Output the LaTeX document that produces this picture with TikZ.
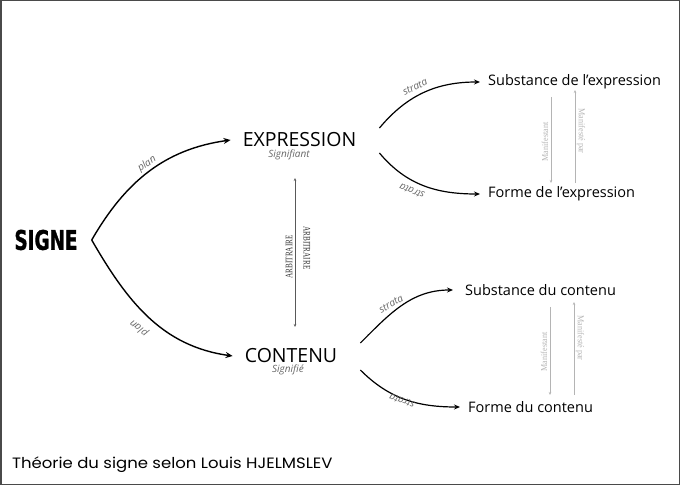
\documentclass[tikz,border=0pt]{standalone}
\usepackage{fontspec}
\setmainfont{Open Sans}
\newfontfamily\titlefont[FakeStretch=1.1]{Poppins}
\newfontfamily\signefont[FakeStretch=0.68, FakeBold=1.2]{DejaVu Sans}
\newfontfamily\notefont[FakeStretch=0.72]{Liberation Serif}
\newfontfamily\manfont[FakeStretch=0.9]{Liberation Serif}
\usetikzlibrary{arrows.meta}
\definecolor{labgray}{HTML}{666666}
\definecolor{mangray}{HTML}{B4B4B4}
\definecolor{framegray}{HTML}{4A4A4A}

\begin{document}
\begin{tikzpicture}[x=1pt, y=1pt,
  plane/.style={line width=1.4pt, -{Stealth[length=7pt, width=6pt]}},
  stratum/.style={line width=1.2pt, -{Stealth[length=6pt, width=5pt]}},
  level/.style={font=\fontsize{19.5}{22}\selectfont, inner xsep=12pt, inner ysep=2pt},
  leaf/.style={font=\fontsize{14.5}{17}\selectfont, anchor=west, inner xsep=8pt, inner ysep=1pt},
  tag/.style={font=\fontsize{10}{12}\selectfont\itshape, text=labgray, inner sep=0pt},
  arbtag/.style={font=\notefont\fontsize{10}{12}\selectfont, text=black!80, inner sep=0pt},
  mantag/.style={font=\manfont\fontsize{9}{11}\selectfont, text=mangray, inner sep=0pt},
  arblink/.style={black!65, line width=0.6pt, {Stealth[length=3pt, width=2.5pt]}-{Stealth[length=3pt, width=2.5pt]}},
  manlink/.style={mangray, line width=0.6pt, -{Stealth[length=3pt, width=2.5pt]}}]
  \useasboundingbox (0,0) rectangle (681,-486);
  % draw frame
  \draw[framegray, line width=1.5pt] (0.75,-0.75) rectangle (679.5,-484.5);
  % draw main nodes
  \node[font=\signefont\bfseries\fontsize{27}{30}\selectfont, inner xsep=14pt] (signe) at (46,-240) {SIGNE};
  \node[level] (expr) at (299.5,-140) {EXPRESSION};
  \node[level] (cont) at (291,-356) {CONTENU};
  \node[tag, anchor=base] (signifiant) at (289,-158) {Signifiant};
  \node[tag, anchor=base] (signifie) at (288,-373) {Signifié};
  % draw plan curves
  \draw[plane] (signe.east) to[out=60, in=188] (expr.west);
  \draw[plane] (signe.east) to[out=-60, in=172] (cont.west);
  \node[tag, rotate=34] (plan1) at (147,-164) {plan};
  \node[tag, rotate=142] (plan2) at (139,-328) {plan};
  % draw arbitraire link
  \coordinate (arbtop) at (295,-178);
  \coordinate (arbbot) at (295,-327);
  \draw[arblink] (arbtop) -- (arbbot);
  \node[arbtag, rotate=90] (arb1) at (289,-257) {ARBITRAIRE};
  \node[arbtag, rotate=-90] (arb2) at (307,-248) {ARBITRAIRE};
  % draw strata of the expression
  \node[leaf] (sexpr) at (480,-82) {Substance de l’expression};
  \node[leaf] (fexpr) at (480,-194) {Forme de l’expression};
  \draw[stratum] ([shift={(11,12)}]expr.east) to[out=50, in=180] (sexpr.west);
  \draw[stratum] ([shift={(11,-13)}]expr.east) to[out=-50, in=180] (fexpr.west);
  \node[tag, rotate=27] (strata1) at (415,-87) {strata};
  \node[tag, rotate=158] (strata2) at (412,-191) {strata};
  % draw strata of the content
  \node[leaf, inner xsep=12pt] (scont) at (453,-290) {Substance du contenu};
  \node[leaf] (fcont) at (460,-407) {Forme du contenu};
  \draw[stratum] ([shift={(11,13)}]cont.east) to[out=45, in=180] (scont.west);
  \draw[stratum] ([shift={(11,-14)}]cont.east) to[out=-45, in=180] (fcont.west);
  \node[tag, rotate=30] (strata3) at (391,-304) {strata};
  \node[tag, rotate=160] (strata4) at (402,-401) {strata};
  % draw manifestation links
  \coordinate (man1a) at (551,-97);
  \coordinate (man1b) at (551,-183);
  \coordinate (man2a) at (575,-183);
  \coordinate (man2b) at (575,-90);
  \coordinate (man3a) at (550,-307);
  \coordinate (man3b) at (550,-395);
  \coordinate (man4a) at (574,-395);
  \coordinate (man4b) at (574,-302);
  \draw[manlink] (man1a) -- (man1b);
  \draw[manlink] (man2a) -- (man2b);
  \draw[manlink] (man3a) -- (man3b);
  \draw[manlink] (man4a) -- (man4b);
  \node[mantag, rotate=90] (mant1) at (545,-142) {Manifestant};
  \node[mantag, rotate=-90] (manp1) at (581,-131) {Manifesté par};
  \node[mantag, rotate=90] (mant2) at (544,-352) {Manifestant};
  \node[mantag, rotate=-90] (manp2) at (580,-338) {Manifesté par};
  % draw title
  \node[font=\titlefont\fontsize{15}{17}\selectfont, anchor=west, inner sep=0pt] (titre) at (12,-465) {Théorie du signe selon Louis HJELMSLEV};
\end{tikzpicture}
\end{document}
